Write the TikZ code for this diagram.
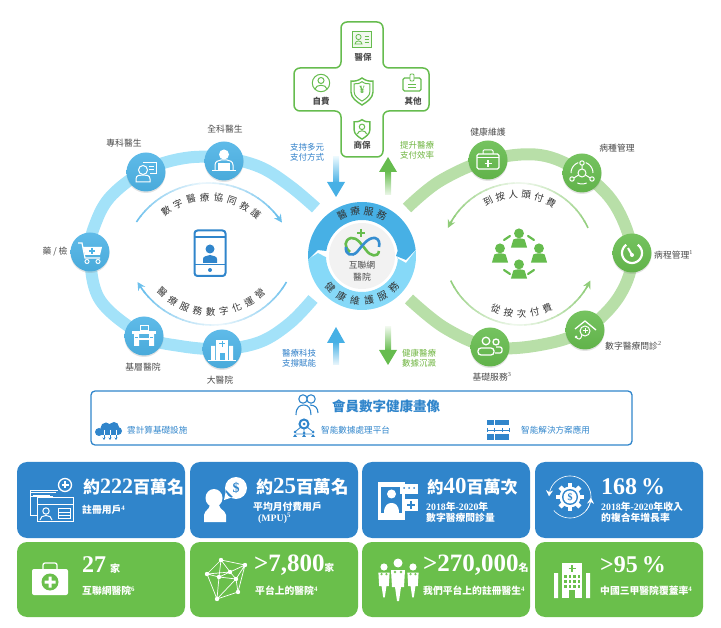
\documentclass[tikz,border=0pt]{standalone}
\usepackage{fontspec}
\setmainfont{Noto Sans CJK TC}
\newfontfamily\numfont{Liberation Serif}
\usepackage{tikz}
\usetikzlibrary{arrows.meta,shadows}

\definecolor{ringblue}{HTML}{A3E2F9}
\definecolor{ringgreen}{HTML}{B8DFA8}
\definecolor{hubblue}{HTML}{4DB3E6}
\definecolor{hubgreen}{HTML}{66BC4E}
\definecolor{coreblue}{HTML}{47B0E5}
\definecolor{corelight}{HTML}{86D9F8}
\definecolor{cardblue}{HTML}{3085CB}
\definecolor{cardgreen}{HTML}{6ABF4B}
\definecolor{linkblue}{HTML}{2F7FC8}
\definecolor{linkgreen}{HTML}{6EB43F}
\definecolor{arcblue}{HTML}{6DC0EC}
\definecolor{arcgreen}{HTML}{8FCC78}
\definecolor{inkgray}{HTML}{4A4A4A}

\newcommand{\fs}[1]{\fontsize{#1}{#1}\selectfont}
% fading arc: centre x, centre y, radius, start angle, end angle, colour
\newcommand{\fadearc}[6]{%
  \foreach \t in {0,1,...,23} {
    \pgfmathsetmacro\aS{#4+(#5-#4)*\t/24}
    \pgfmathsetmacro\aE{#4+(#5-#4)*(\t+1.2)/24}
    \pgfmathsetmacro\mixv{12+88*abs(2*(\t+.5)/24-1)}
    \draw[line width=1.6pt,color=#6!\mixv!white] plot[domain=\aS:\aE,samples=3] ({#1+#3*cos(\x)},{#2+#3*sin(\x)});
  }}
% letters on a circle: name, x, y, radius, first angle, last angle, count, sign, letters
\newcommand{\arcwords}[9]{%
  \foreach \c [count=\i] in {#9} {
    \pgfmathsetmacro\ang{#5+(\i-1)*(#6-#5)/(#7-1)}
    \pgfmathsetmacro\tilt{#8*90-\ang}
    \node[arcword,rotate=\tilt] (#1\i) at ({#2+#4*cos(\ang)},{#3+#4*sin(\ang)}) {\c};
  }}
\newcommand{\meeple}[3]{%
  \begin{scope}[shift={(#1)},scale=#2]
    \fill[#3] (0,-7) circle (5.2);
    \fill[#3] (-8.5,8) -- (-6,-.5) .. controls (-3,-2.2) and (3,-2.2) .. (6,-.5) -- (8.5,8) -- cycle;
  \end{scope}}
\newcommand{\shieldline}{(0,-13) .. controls (4,-10) and (8,-9.5) .. (11,-10) -- (11,1) .. controls (11,7) and (5,11) .. (0,14) .. controls (-5,11) and (-11,7) .. (-11,1) -- (-11,-10) .. controls (-8,-9.5) and (-4,-10) .. (0,-13) -- cycle}

\tikzset{
  hub/.style={circle,minimum size=39pt,inner sep=0pt,drop shadow={opacity=.22,shadow xshift=0pt,shadow yshift=-1.5pt}},
  hubb/.style={hub,top color=hubblue!90!white,bottom color=hubblue!95!black},
  hubg/.style={hub,top color=hubgreen!90!white,bottom color=hubgreen!95!black},
  tag/.style={text=inkgray,font=\fs{8.8},inner sep=0pt},
  arcword/.style={text=black!80,font=\fs{9.5},inner sep=0pt},
  plus/.style={text=linkblue,font=\fs{8.5},inner sep=0pt,align=center},
  plusg/.style={text=linkgreen,font=\fs{8.5},inner sep=0pt,align=center},
  cardb/.style={rounded corners=10pt,fill=cardblue,minimum width=168pt,minimum height=76pt,inner sep=0pt},
  cardg/.style={rounded corners=10pt,fill=cardgreen,minimum width=168pt,minimum height=75pt,inner sep=0pt},
  big/.style={text=white,anchor=west,inner sep=0pt,font=\bfseries},
  small/.style={text=white,anchor=west,inner sep=0pt,font=\bfseries\fs{9.8},align=left},
  wl/.style={draw=white,line width=1pt},
  gl/.style={draw=hubgreen,line width=1pt},
  bl/.style={draw=cardblue,line width=1pt},
  stub/.style={text=cardblue,anchor=west,inner sep=0pt,font=\fs{8.6}}
}

\begin{document}
\begin{tikzpicture}[x=1pt,y=-1pt]
  \useasboundingbox (0,0) rectangle (721,628);

  % the two rings
  \draw[ringblue,line width=12pt] plot[smooth,tension=.6] coordinates {(316,208) (290,186) (260,167) (224,158) (185,158) (146,170) (112,195) (96,222) (90,252) (100,300) (144,336) (180,346) (222,349) (260,342) (290,323) (313,299)};
  \draw[ringgreen,line width=12pt] plot[smooth,tension=.6] coordinates {(407,208) (440,181) (488,160) (540,155) (582,173) (615,205) (632,253) (620,295) (585,330) (540,345) (490,347) (445,328) (409,299)};

  % inner arcs left
  \fadearc{209}{270}{87}{-146.5}{-38}{arcblue}
  \draw[arcblue,line width=1.6pt,-{Stealth[length=8pt,width=8pt]}] plot[domain=-40:-33,samples=4] ({209+87*cos(\x)},{270+87*sin(\x)});
  \fadearc{212}{239}{86}{30}{142}{arcblue}
  \draw[arcblue,line width=1.6pt,-{Stealth[length=8pt,width=8pt]}] plot[domain=141:150,samples=4] ({212+86*cos(\x)},{239+86*sin(\x)});
  \arcwords{careWord}{209}{270}{73}{-126}{-50}{8}{-1}{數,字,醫,療,協,同,救,護}
  \arcwords{opsWord}{212}{239}{73}{133}{49}{9}{1}{醫,療,服,務,數,字,化,運,營}

  % inner arcs right
  \fadearc{518}{260}{77}{-24.6}{-150}{arcgreen}
  \draw[arcgreen,line width=1.6pt,-{Stealth[length=8pt,width=8pt]}] plot[domain=-149:-155.4,samples=4] ({518+77*cos(\x)},{260+77*sin(\x)});
  \fadearc{520.5}{248}{77}{155}{30}{arcgreen}
  \draw[arcgreen,line width=1.6pt,-{Stealth[length=8pt,width=8pt]}] plot[domain=31:25,samples=4] ({520.5+77*cos(\x)},{248+77*sin(\x)});
  \arcwords{headWord}{518}{260}{66}{-117}{-60}{6}{-1}{到,按,人,頭,付,費}
  \arcwords{timesWord}{520.5}{248}{66}{112}{66}{5}{1}{從,按,次,付,費}

  % left hubs
  \node[hubb] (generalHub) at (224,161) {};
  \node[hubb] (specialHub) at (146,172) {};
  \node[hubb] (drugHub) at (90,252) {};
  \node[hubb] (localHub) at (144,336) {};
  \node[hubb] (largeHub) at (222,349) {};
  \node[tag] (generalTag) at (225,129) {全科醫生};
  \node[tag] (specialTag) at (124,143) {專科醫生};
  \node[tag] (drugTag) at (55,252) {藥 / 檢};
  \node[tag] (localTag) at (143,367) {基層醫院};
  \node[tag] (largeTag) at (220,380) {大醫院};

  % right hubs
  \node[hubg] (careHub) at (488,160) {};
  \node[hubg] (diseaseHub) at (582,173) {};
  \node[hubg] (courseHub) at (632,253) {};
  \node[hubg] (visitHub) at (585,330) {};
  \node[hubg] (basicHub) at (490,347) {};
  \node[tag] (careTag) at (488,132) {健康維護};
  \node[tag] (diseaseTag) at (617,148) {病種管理};
  \node[tag,anchor=west] (courseTag) at (654,255) {病程管理\textsuperscript{\numfont 1}};
  \node[tag,anchor=west] (visitTag) at (605,346) {數字醫療問診\textsuperscript{\numfont 2}};
  \node[tag] (basicTag) at (492,377) {基礎服務\textsuperscript{\numfont 3}};

  % icons on the left hubs
  \begin{scope}[shift={(224,161)}]
    \fill[white] (0,-6.5) circle (5);
    \draw[wl] (-9,9) -- (-9,4) .. controls (-9,0) and (-5,-.5) .. (-3,-1) -- (3,-1) .. controls (5,-.5) and (9,0) .. (9,4) -- (9,9);
    \fill[white] (-6,2) rectangle (6,9);
    \draw[wl] (-12,10) -- (12,10);
  \end{scope}
  \begin{scope}[shift={(146,172)}]
    \draw[wl] (-3,-2) circle (4.5);
    \draw[wl] (-10,10) -- (-10,7) .. controls (-10,3) and (-6,3) .. (-3,3) .. controls (0,3) and (4,3) .. (4,7) -- (4,10) -- cycle;
    \draw[wl] (-3,-9) -- (10,-9) -- (10,2) -- (4,2);
    \draw[white,line width=.7pt] (3,-6) -- (8,-6) (3,-3) -- (8,-3);
  \end{scope}
  \begin{scope}[shift={(90,252)}]
    \draw[wl,line width=1.2pt] (-12,-9) -- (-8,-9) -- (-5,6) -- (10,6);
    \fill[white] (-7,-5) -- (12,-5) -- (10,3) -- (-5,3) -- cycle;
    \draw[hubblue,line width=1.3pt] (2,-4) -- (2,2) (-1,-1) -- (5,-1);
    \draw[wl] (-3,9.5) circle (2) (8,9.5) circle (2);
  \end{scope}
  \begin{scope}[shift={(144,336)}]
    \fill[white] (-12,-5) rectangle (12,-2);
    \draw[wl] (-4,-10) rectangle (4,-5);
    \fill[white] (-10,-2) rectangle (-5,10) (5,-2) rectangle (10,10);
    \fill[white] (-10,2) rectangle (10,4);
    \draw[hubblue,line width=.6pt] (-8.8,1) -- (-6.2,1) (6.2,1) -- (8.8,1);
  \end{scope}
  \begin{scope}[shift={(222,349)}]
    \fill[white] (-6,-9) rectangle (6,11);
    \fill[white] (-11,-3) rectangle (-7,11) (7,-3) rectangle (11,11);
    \draw[hubblue,line width=1pt] (0,-8) -- (0,-2) (-3,-5) -- (3,-5);
    \fill[hubblue] (-2.5,4) rectangle (2.5,11);
    \draw[white,line width=.8pt] (-14,11.5) -- (14,11.5);
  \end{scope}

  % icons on the right hubs
  \begin{scope}[shift={(488,160)}]
    \draw[wl,line width=1.2pt,rounded corners=1.5pt] (-11,-6) rectangle (11,9);
    \draw[wl,rounded corners=1pt] (-5,-6) -- (-5,-10) -- (5,-10) -- (5,-6);
    \draw[wl] (-11,-2) -- (11,-2);
    \draw[wl,line width=1.3pt] (0,0) -- (0,7) (-3.5,3.5) -- (3.5,3.5);
  \end{scope}
  \begin{scope}[shift={(582,173)}]
    \draw[wl] (0,0) circle (4);
    \draw[wl] (0,-4) -- (0,-10) (3.5,2) -- (9,5.5) (-3.5,2) -- (-9,5.5);
    \draw[wl,fill=hubgreen] (0,-10) circle (2.2) (10,6) circle (2.2) (-10,6) circle (2.2);
    \draw[wl] plot[domain=-70:0,samples=8] ({11*cos(\x)},{11*sin(\x)});
    \draw[wl] plot[domain=180:250,samples=8] ({11*cos(\x)},{11*sin(\x)});
    \draw[wl] plot[domain=65:115,samples=6] ({11*cos(\x)},{11*sin(\x)});
  \end{scope}
  \begin{scope}[shift={(632,253)}]
    \draw[white,line width=2.2pt] plot[domain=-55:235,samples=30] ({10*cos(\x)},{10*sin(\x)});
    \draw[white,line width=2pt] (0,2) -- (-4,-5);
    \fill[white] (0,2) circle (2);
  \end{scope}
  \begin{scope}[shift={(585,330)}]
    \draw[white,line width=1.3pt] (-10,-1) -- (0,-9) -- (11,0);
    \draw[wl] (0,1) circle (5);
    \draw[wl] (0,-1.5) -- (0,3.5) (-2.5,1) -- (2.5,1);
    \draw[wl] (-3,5) .. controls (-4,10) and (-7,10) .. (-9,7);
    \fill[white] (-9,7) circle (1.5);
  \end{scope}
  \begin{scope}[shift={(490,347)}]
    \draw[wl,line width=1.3pt] (-4,-6) circle (3.8) (6,-5) circle (3);
    \draw[wl,line width=1.3pt,rounded corners=3pt] (-12,8) rectangle (4,1);
    \draw[wl,line width=1.3pt,rounded corners=2pt] (6,0) -- (12,0) -- (12,6) -- (5,6);
  \end{scope}

  % phone and group in the middle of the rings
  \begin{scope}[shift={(210,253)}]
    \draw[cardblue,line width=2pt,rounded corners=3pt] (-15.5,-22.5) rectangle (15.5,23);
    \draw[cardblue,line width=1.3pt] (-15.5,-16) -- (15.5,-16) (-15.5,11.5) -- (15.5,11.5);
    \fill[cardblue] (0,17) circle (2);
    \fill[cardblue] (0,-4) circle (4.5);
    \fill[cardblue] (-7,10) -- (-7,6) .. controls (-7,3) and (-3,3) .. (0,2) .. controls (3,3) and (7,3) .. (7,6) -- (7,10) -- cycle;
  \end{scope}
  \meeple{519,240}{.95}{hubgreen}
  \meeple{500,255}{.95}{hubgreen}
  \meeple{539,255}{.95}{hubgreen}
  \meeple{519,271}{.95}{hubgreen}
  \draw[hubgreen,line width=2.2pt,line cap=round] (504,240) -- (510,236) (528,236) -- (534,240) (504,270) -- (510,274) (528,274) -- (534,270);

  % centre disc
  \fill[coreblue] plot[domain=176:353.5,samples=50] ({362+54*cos(\x)},{256+54*sin(\x)}) -- (406,260) -- (396,256) -- plot[domain=352:188,samples=40] ({362+36*cos(\x)},{256+36*sin(\x)}) -- (318,250) -- cycle;
  \fill[corelight] plot[domain=176.5:-6,samples=50] ({362+54*cos(\x)},{256+54*sin(\x)}) -- (406,263) -- (397,258) -- plot[domain=2:178,samples=40] ({362+36*cos(\x)},{256+36*sin(\x)}) -- (318,253) -- cycle;
  \node[circle,fill=black!5,minimum size=66pt,inner sep=0pt] (coreDisc) at (362,256) {};
  \begin{scope}[arcword/.append style={font=\fs{9.8}}]
    \arcwords{serviceWord}{362}{256}{45}{-116}{-64}{4}{-1}{醫,療,服,務}
    \arcwords{upkeepWord}{362}{256}{45}{135}{45}{6}{1}{健,康,維,護,服,務}
  \end{scope}
  \node[tag,font=\fs{8.8}] (coreTopTag) at (362,265) {互聯網};
  \node[tag,font=\fs{8.8}] (coreLowTag) at (362,277) {醫院};
  \draw[hubgreen,line width=2.6pt] (350,252) .. controls (344,247) and (344,240) .. (351,238) .. controls (357,237) and (362,245) .. (366,250) .. controls (370,256) and (378,258) .. (379,251);
  \draw[cardblue!80!hubblue,line width=2.6pt] (346,247) .. controls (345,255) and (352,257) .. (357,252) .. controls (362,246) and (368,237) .. (375,238) .. controls (379,239) and (380,243) .. (379,247);
  \draw[hubgreen,line width=1.8pt] (361,229) -- (361,237) (357,233) -- (365,233);

  % cross on top
  \draw[hubgreen,line width=1.5pt,rounded corners=6pt] (341,22) -- (383,22) -- (383,68) -- (429,68) -- (429,111) -- (383,111) -- (383,157) -- (341,157) -- (341,111) -- (294,111) -- (294,68) -- (341,68) -- cycle;
  \node[tag,font=\bfseries\fs{8.5}] (socialTag) at (363,57) {醫保};
  \node[tag,font=\bfseries\fs{8.5}] (selfTag) at (321,101) {自費};
  \node[tag,font=\bfseries\fs{8.5}] (otherTag) at (413,101) {其他};
  \node[tag,font=\bfseries\fs{8.5}] (commerceTag) at (362,145) {商保};
  \begin{scope}[shift={(362,39)}]
    \draw[hubgreen,line width=.9pt,fill=hubgreen!10] (-9.5,-8) rectangle (9.5,8);
    \draw[gl,line width=.8pt] (-3.5,-2) circle (2.6) (-7,5) .. controls (-7,1) and (0,1) .. (0,5) -- cycle;
    \draw[gl,line width=.8pt] (2.5,-3) -- (7,-3) (2.5,0) -- (7,0) (2.5,3) -- (7,3);
  \end{scope}
  \begin{scope}[shift={(321,83)}]
    \draw[gl] (0,0) circle (8.7);
    \draw[gl] (0,-2.5) circle (3);
    \draw[gl] (-6,6) .. controls (-5,1) and (5,1) .. (6,6);
  \end{scope}
  \begin{scope}[shift={(362,91)}]
    \draw[gl,line width=1.4pt] \shieldline;
    \begin{scope}[scale=.72]
      \draw[gl,line width=1pt] \shieldline;
    \end{scope}
    \node[text=hubgreen,font=\numfont\bfseries\fs{11},inner sep=0pt] (yenMark) at (0,-1) {¥};
  \end{scope}
  \begin{scope}[shift={(412,84)}]
    \draw[gl,line width=1.2pt,rounded corners=1.5pt] (-9,-6) rectangle (9,7);
    \draw[gl,line width=.9pt,fill=white,rounded corners=1pt] (-2,-10) rectangle (2,-3);
    \draw[gl,line width=.8pt] (-4,0) -- (4,0) (-4,3) -- (4,3);
  \end{scope}
  \begin{scope}[shift={(362,129)},scale=.72]
    \draw[gl,line width=1.4pt] \shieldline;
    \draw[gl] (0,-3) circle (3.8);
    \draw[gl] (-6.5,7) .. controls (-5,1) and (5,1) .. (6.5,7);
  \end{scope}

  % the four flow arrows, shaft then head
  \shade[top color=ringblue!25,bottom color=coreblue] (333,157) rectangle (339,183);
  \fill[coreblue] (327,182) -- (345,182) -- (336,197) -- cycle;
  \shade[top color=hubgreen,bottom color=hubgreen!12] (385,171) rectangle (391,195);
  \fill[hubgreen] (388,157) -- (397,172) -- (379,172) -- cycle;
  \shade[top color=coreblue,bottom color=coreblue!10] (333,342) rectangle (339,365);
  \fill[coreblue] (336,327) -- (345,343) -- (327,343) -- cycle;
  \shade[top color=hubgreen!12,bottom color=hubgreen] (385,327) rectangle (391,351);
  \fill[hubgreen] (379,350) -- (397,350) -- (388,365) -- cycle;
  \node[plus] (payLabel) at (307,152) {支持多元\\[1.5pt]支付方式};
  \node[plusg] (rateLabel) at (417,150) {提升醫療\\[1.5pt]支付效率};
  \node[plus] (techLabel) at (299,358.5) {醫療科技\\[1.5pt]支撐賦能};
  \node[plusg] (dataLabel) at (419,358) {健康醫療\\[1.5pt]數據沉澱};

  % member box
  \draw[cardblue,line width=1.3pt,rounded corners=4pt] (91,391) rectangle (632,445);
  \node[text=cardblue,font=\bfseries\fs{13.5},inner sep=0pt] (memberTitle) at (386,406) {會員數字健康畫像};
  \node[stub] (cloudText) at (127,430) {雲計算基礎設施};
  \node[stub] (dataText) at (321,430) {智能數據處理平台};
  \node[stub] (planText) at (521,430) {智能解決方案應用};
  \begin{scope}[shift={(307,405)}]
    \draw[bl,line width=1.1pt] (-4,-6) circle (4.2) (4,-6) circle (4.2);
    \draw[bl,line width=1.1pt] (-11,10) .. controls (-11,2) and (-7,0) .. (-3,0) .. controls (1,0) and (4,3) .. (4,10);
    \draw[bl,line width=1.1pt] (3,0) .. controls (8,0) and (11,3) .. (11,8);
  \end{scope}
  \begin{scope}[shift={(110,430)}]
    \fill[cardblue] (-11,2) circle (4) (-4,-2) circle (5.5) (4,-3) circle (5) (8,1) circle (4);
    \fill[cardblue] (-11,0) rectangle (8,5);
    \draw[white,line width=.5pt] (-6,0) -- (-6,5) (0,0) -- (0,5) (6,0) -- (6,5);
    \draw[cardblue,line width=.9pt,-{Stealth[length=2.5pt,width=3pt]}] (-6,5) -- (-6,10);
    \draw[cardblue,line width=.9pt,-{Stealth[length=2.5pt,width=3pt]}] (0,5) -- (0,10);
    \draw[cardblue,line width=.9pt,-{Stealth[length=2.5pt,width=3pt]}] (6,5) -- (6,10);
  \end{scope}
  \begin{scope}[shift={(304,430)}]
    \draw[bl,line width=2pt] (0,-6) circle (4.5);
    \draw[bl,line width=.8pt] (0,-1) -- (0,4) (-8,4) -- (8,4) (-8,1) -- (-3,-3) (8,1) -- (3,-3);
    \fill[cardblue] (0,-6) circle (1.5);
    \fill[cardblue] (-9,2) circle (1.5) (0,3) circle (1.5) (9,2) circle (1.5);
    \fill[cardblue] (-11,7) -- (-9,4) -- (-7,7) -- cycle (-2,7) -- (0,4) -- (2,7) -- cycle (7,7) -- (9,4) -- (11,7) -- cycle;
  \end{scope}
  \begin{scope}[shift={(498,430)}]
    \foreach \bx in {-11,-3.5,4} {
      \fill[cardblue] (\bx,-10) rectangle ++(7,5.5);
      \fill[cardblue] (\bx,4.5) rectangle ++(7,5.5);
    }
    \draw[bl,line width=.7pt] (-11,0) -- (11,0) (-11,-2) -- (-11,2) (-4,-2) -- (-4,2) (4,-2) -- (4,2) (11,-2) -- (11,2);
  \end{scope}

  % the cards
  \node[cardb] (userCard) at (101,500) {};
  \node[cardb] (payCard) at (274,500) {};
  \node[cardb] (visitCard) at (446,500) {};
  \node[cardb] (growCard) at (619,500) {};
  \node[cardg] (webCard) at (101,579.5) {};
  \node[cardg] (hospCard) at (274,579.5) {};
  \node[cardg] (docCard) at (446,579.5) {};
  \node[cardg] (rateCard) at (619,579.5) {};

  \node[big] (userBig) at (83,487) {\fs{17}約\numfont\bfseries\fs{22}222\normalfont\bfseries\fs{17}百萬名};
  \node[small] (userSmall) at (82,510) {註冊用戶\textsuperscript{\numfont 4}};
  \node[big] (payBig) at (256,487) {\fs{17}約\numfont\bfseries\fs{23}25\normalfont\bfseries\fs{17.5}百萬名};
  \node[small] (paySmall) at (253,507) {平均月付費用戶};
  \node[small] (payMpu) at (258,518) {\numfont\bfseries (MPU)\textsuperscript{5}};
  \node[big] (visitBig) at (427,487) {\fs{16.5}約\numfont\bfseries\fs{23}40\normalfont\bfseries\fs{17}百萬次};
  \node[small] (visitYear) at (426,507) {\numfont\bfseries 2018\normalfont\bfseries 年\numfont\bfseries -2020\normalfont\bfseries 年};
  \node[small] (visitSmall) at (426,518) {數字醫療問診量};
  \node[big] (growBig) at (601,487) {\numfont\bfseries\fs{24}168\,\%};
  \node[small] (growYear) at (601,507) {\numfont\bfseries 2018\normalfont\bfseries 年\numfont\bfseries -2020\normalfont\bfseries 年收入};
  \node[small] (growSmall) at (601,518) {的複合年增長率};
  \node[big] (webBig) at (82,565) {\numfont\bfseries\fs{24}27\,\normalfont\bfseries\fs{10}家};
  \node[small] (webSmall) at (82,591) {互聯網醫院\textsuperscript{\numfont 6}};
  \node[big] (hospBig) at (254,565) {\numfont\bfseries\fs{25}>7,800\normalfont\bfseries\fs{9.5}家};
  \node[small] (hospSmall) at (255,591) {平台上的醫院\textsuperscript{\numfont 4}};
  \node[big] (docBig) at (423,565) {\numfont\bfseries\fs{25}>270,000\normalfont\bfseries\fs{10}名};
  \node[small] (docSmall) at (423,591) {我們平台上的註冊醫生\textsuperscript{\numfont 4}};
  \node[big] (rateBig) at (600,565) {\numfont\bfseries\fs{24}>95\,\%};
  \node[small] (rateSmall) at (600,591) {中國三甲醫院覆蓋率\textsuperscript{\numfont 4}};

  % card icons
  \draw[wl] (30,500) -- (30,491) -- (58,491) (30,493) -- (56,493) (33,496) -- (50,496);
  \draw[wl,fill=cardblue] (30,515) -- (30,497) -- (52,497) -- (52,515) -- cycle;
  \draw[wl,fill=cardblue] (37,498) rectangle (73,521);
  \draw[white,line width=.8pt] (37,504) -- (73,504);
  \draw[wl] (46,511) circle (3.2) (40,520) .. controls (40,514) and (52,514) .. (52,520);
  \draw[wl] (58,509) rectangle (70,518);
  \draw[white,line width=.8pt] (58,512) -- (70,512) (58,515) -- (70,515);
  \draw[wl,line width=1.3pt] (65,485) circle (6.5);
  \draw[wl,line width=1.3pt] (65,481.5) -- (65,488.5) (61.5,485) -- (68.5,485);

  \fill[white] (214,498) ellipse (8.5 and 9);
  \fill[white] (204,522) -- (204,515) .. controls (205,510) and (209,510) .. (210,505) -- (219,505) .. controls (220,510) and (225,510) .. (226,515) -- (226,522) -- cycle;
  \fill[white] (236,488) circle (11) (226,490) -- (224,500) -- (233,497) -- cycle;
  \node[text=cardblue,font=\numfont\bfseries\fs{14},inner sep=0pt] (dollarMark) at (236,488) {\$};

  \fill[white] (378,482) rectangle (405,520);
  \fill[cardblue] (381,487) rectangle (402,513);
  \fill[white] (391.5,494) circle (4.5);
  \fill[white] (384,513) .. controls (384,505) and (388,503) .. (391.5,503) .. controls (395,503) and (399,505) .. (399,513) -- cycle;
  \fill[white] (400,484) rectangle (418,494);
  \fill[cardblue] (404,488) circle (1) (409,488) circle (1) (414,488) circle (1);
  \fill[white] (404,499) rectangle (418,511);
  \draw[cardblue,line width=1.8pt] (411,501) -- (411,509) (407,505) -- (415,505);

  \begin{scope}[shift={(570,497)}]
    \foreach \ang in {0,45,...,315} {
      \fill[white,rotate=\ang] (-2.2,-14) rectangle (2.2,-8);
    }
    \fill[white] (0,0) circle (10.5);
    \fill[cardblue] (0,0) circle (8);
    \fill[white] (0,0) circle (6.5);
    \node[text=cardblue,font=\numfont\bfseries\fs{10},inner sep=0pt] (growMark) at (0,0) {\$};
    \draw[white,line width=.6pt,-{Stealth[length=6pt,width=7pt]}] plot[domain=-40:178,samples=40] ({21*cos(-\x)},{21*sin(-\x)});
    \draw[white,line width=.6pt,-{Stealth[length=6pt,width=7pt]}] plot[domain=140:2,samples=40] ({21*cos(\x)},{21*sin(\x)});
  \end{scope}

  \fill[white,rounded corners=2pt] (32,569) rectangle (68,595);
  \draw[wl,line width=1.3pt,rounded corners=2pt] (43,569) -- (43,563) -- (57,563) -- (57,569);
  \fill[cardgreen] (50,582) circle (8.5);
  \fill[white] (48.5,576.5) rectangle (51.5,587.5) (44.5,580.5) rectangle (55.5,583.5);

  \coordinate (n1) at (221,560);
  \coordinate (n2) at (245,565);
  \coordinate (n3) at (207,574);
  \coordinate (n4) at (230,572);
  \coordinate (n5) at (219,577);
  \coordinate (n6) at (236,579);
  \coordinate (n7) at (238,592);
  \coordinate (n8) at (217,599);
  \draw[white,line width=.7pt] (n1) -- (n2) -- (n6) -- (n7) -- (n8) -- (n3) -- (n1) -- (n4) -- (n2) (n3) -- (n5) -- (n4) -- (n6) -- (n5) -- (n1) (n5) -- (n8) -- (n6) (n3) -- (n4) (n2) -- (n7);
  \foreach \n in {n1,n2,n3,n4,n5,n6,n7,n8} \fill[white] (\n) circle (2.2);

  \foreach \dx/\dy/\ds in {384/567/.8,398/563/1,413/567/.8} {
    \begin{scope}[shift={(\dx,\dy)},scale=\ds]
      \fill[white] (0,0) circle (4.5);
      \fill[white] (-7,7) -- (7,7) -- (6,24) -- (3,24) -- (1,38) -- (-1,38) -- (-3,24) -- (-6,24) -- cycle;
      \draw[cardgreen,line width=.5pt] (-3,9) circle (1) (3,9) circle (1);
    \end{scope}
  }

  \fill[white] (562,563) rectangle (582,598);
  \fill[white] (554,573) rectangle (558,598) (586,573) rectangle (590,598);
  \draw[cardgreen,line width=1.6pt] (572,565) -- (572,572) (568.5,568.5) -- (575.5,568.5);
  \foreach \wy in {575,580,585} \foreach \wx in {565.5,570,574.5,579} \fill[cardgreen] (\wx-1.2,\wy) rectangle (\wx+1.2,\wy+2.8);
  \fill[cardgreen] (569,590) rectangle (575,598);
\end{tikzpicture}
\end{document}
